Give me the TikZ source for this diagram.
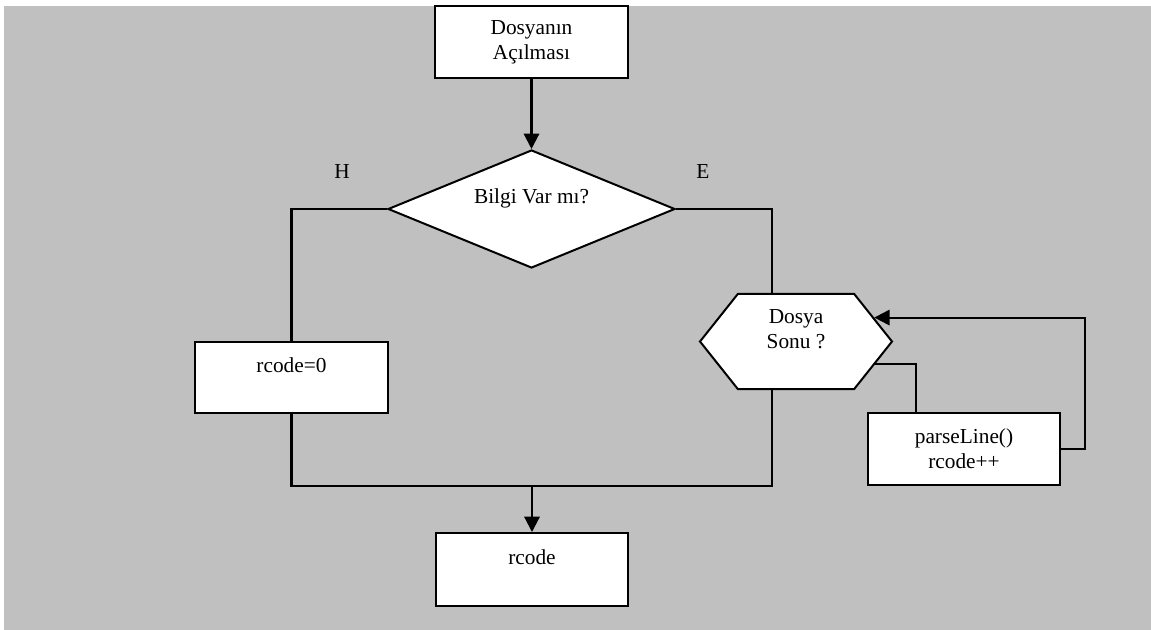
\documentclass[tikz,border=0pt]{standalone}
\usepackage{fontspec}
\setmainfont{Liberation Serif}
\usetikzlibrary{shapes.geometric,shapes.symbols,arrows.meta,calc}
\definecolor{bggray}{HTML}{C0C0C0}
\begin{document}
\begin{tikzpicture}[x=0.75pt,y=-0.75pt,
  every node/.style={font=\fontsize{16}{18.75}\selectfont, text=black},
  shp/.style={draw=black, line width=1.5pt, fill=white, inner sep=0pt, align=center},
  boxnode/.style={shp, rectangle},
  conn/.style={draw=black, line width=1.6pt},
  arr/.style={conn, -{Triangle[length=11.5pt,width=11.5pt]}},
  lbl/.style={inner sep=0pt}
]
\useasboundingbox (0,0) rectangle (1151,630);
\fill[bggray] (4,6) rectangle (1151,630);

\node[boxnode, minimum width=144.75pt, minimum height=54pt] (top) at (531.5,42) {Dosyanın\\Açılması};
\node[shp, diamond, aspect=2.43, minimum width=215.25pt, minimum height=88.5pt] (dec) at (531.5,209) {Bilgi Var mı?\\\mbox{}};
\node[boxnode, minimum width=144.75pt, minimum height=53.25pt] (r0) at (291.5,377.5) {rcode=0\\\mbox{}};
\node[shp, signal, signal to=east and west, signal pointer angle=103, minimum width=144pt, minimum height=71.25pt] (hex) at (796,341.5) {Dosya\\Sonu ?\\\mbox{}};
\node[boxnode, minimum width=144pt, minimum height=54pt] (pl) at (964,449) {parseLine()\\rcode++};
\node[boxnode, minimum width=144pt, minimum height=54.75pt] (rc) at (532,569.5) {rcode\\\mbox{}};

\node[lbl] (h) at (342,172) {H};
\node[lbl] (e) at (703,172) {E};

\coordinate (jr) at (772,209);
\coordinate (m) at (532,486);

\draw[arr] (top.south) -- (dec.north);
\draw[conn] (dec.west) -| (r0.north);
\draw[conn] (dec.east) -- (jr) -- (jr |- hex.north);
\draw[conn] (r0.south) |- (m);
\draw[conn] (jr |- hex.south) |- (m);
\draw[arr] (m) -- (rc.north);
\draw[conn] (hex.-16) -| ($(pl.north)+(-48,0)$);
\draw[arr] (pl.east) -- ++(24,0) |- (hex.17);
\end{tikzpicture}
\end{document}
